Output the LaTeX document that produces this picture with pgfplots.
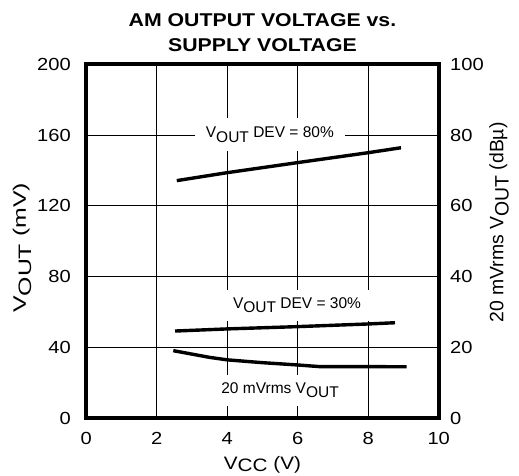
\documentclass[border=0pt]{standalone}
\usepackage{pgfplots}
\pgfplotsset{compat=1.18}
\usepackage{fontspec}
\setmainfont{Liberation Sans}
\newfontfamily\wfont[FakeStretch=1.15]{Liberation Sans}
\newfontfamily\xwfont[FakeStretch=1.38]{Liberation Sans}
\newcommand{\lo}[1]{\raisebox{-0.28em}{#1}}
\begin{document}
\begin{tikzpicture}
\useasboundingbox (-86.2pt,-58pt) rectangle (432.8pt,418pt);
\begin{axis}[
  at={(0pt,0pt)}, anchor=south west,
  width=352.5pt, height=353.5pt, scale only axis,
  xmin=0, xmax=10, ymin=0, ymax=200,
  xtick={0,2,...,10}, ytick={0,40,...,200},
  grid=major, grid style={black, line width=1pt},
  axis line style={line width=4pt},
  major tick length=0pt,
  /pgf/number format/assume math mode=true,
  tick label style={font=\wfont\fontsize{17.5}{17.5}\selectfont},
  xticklabel style={inner sep=0pt, anchor=north, yshift=-14pt},
  yticklabel style={inner sep=0pt, anchor=east, xshift=-15.2pt},
]
\addplot[black, line width=3.4pt] coordinates {(2.57,134.3) (4,138.8) (6,144.5) (8,150.1) (8.93,152.9)};
\addplot[black, line width=3.4pt] coordinates {(2.52,49.2) (4,50.4) (6,51.7) (8,53.2) (8.76,53.9)};
\addplot[black, line width=3.4pt] coordinates {(2.47,38.1) (3.5,34.3) (4,32.9) (5,31.3) (6,30.0) (6.6,29.1) (9.09,29.0)};
\node[fill=white, inner xsep=11pt, inner ysep=9pt, anchor=base, font=\fontsize{15.5}{15.5}\selectfont] at (axis cs:5.21,158.6) {V\lo{OUT} DEV = 80\%};
\node[fill=white, inner xsep=11pt, inner ysep=8pt, anchor=base, font=\fontsize{15.5}{15.5}\selectfont] at (axis cs:5.98,62.0) {V\lo{OUT} DEV = 30\%};
\node[fill=white, inner xsep=11pt, inner ysep=8pt, anchor=base, font=\fontsize{15.5}{15.5}\selectfont] at (axis cs:5.50,13.95) {20 mVrms V\lo{OUT}};
\end{axis}
\begin{axis}[
  at={(0pt,0pt)}, anchor=south west,
  width=352.5pt, height=353.5pt, scale only axis,
  xmin=0, xmax=10, ymin=0, ymax=100,
  axis x line=none, axis y line*=right,
  axis line style={line width=4pt},
  ytick={0,20,...,100},
  major tick length=0pt,
  /pgf/number format/assume math mode=true,
  tick label style={font=\wfont\fontsize{17.5}{17.5}\selectfont},
  yticklabel style={inner sep=0pt, anchor=west, xshift=11.3pt},
]
\addplot[draw=none] coordinates {(0,0) (10,100)};
\end{axis}
\node[anchor=base, font=\wfont\bfseries\fontsize{18.5}{18.5}\selectfont] at (176.25pt,391pt) {AM OUTPUT VOLTAGE vs.};
\node[anchor=base, font=\wfont\bfseries\fontsize{18.5}{18.5}\selectfont] at (176.25pt,366pt) {SUPPLY VOLTAGE};
\node[anchor=base, font=\wfont\fontsize{18}{18}\selectfont] at (176.25pt,-51.5pt) {V\raisebox{-0.13em}{CC} (V)};
\node[rotate=90, anchor=base, font=\xwfont\fontsize{18}{18}\selectfont] at (-60.2pt,170pt) {V\lo{OUT} (mV)};
\node[rotate=90, anchor=base, font=\fontsize{19.4}{19.4}\selectfont] at (417.1pt,195.5pt) {20 mVrms V\lo{OUT} (dBµ)};
\end{tikzpicture}
\end{document}
